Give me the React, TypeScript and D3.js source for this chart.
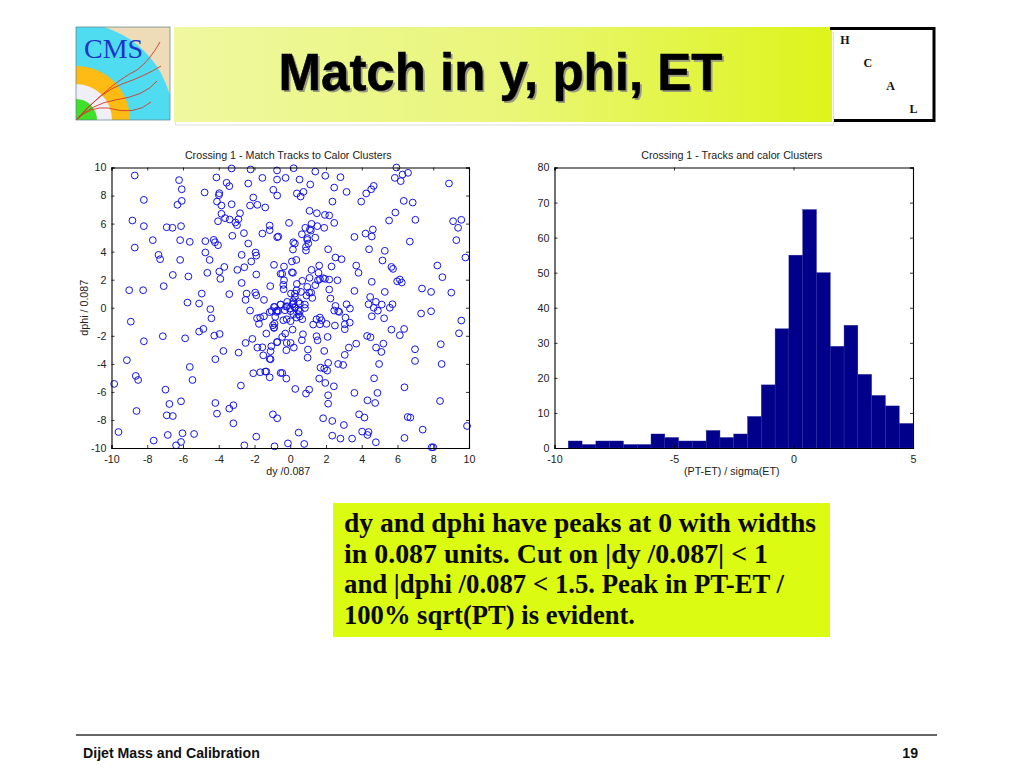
import { useEffect, useRef } from "react";
import * as d3 from "d3";

// dy, dphi
const scatterUpperLeft: [number, number][] = [
  [-8.7, 9.43], [-6.22, 9.1], [-6.07, 8.45], [-8.19, 7.69], [-6.07, 7.62], [-6.31, 7.34], [-4.79, 8.22], [-4.13, 9.29],
  [-3.56, 8.91], [-3.41, 8.67], [-3.97, 8.17], [-3.99, 8.03], [-4.1, 7.57], [-3.85, 7.29], [-3.28, 7.38], [-3.28, 9.93],
  [-2.22, 9.86], [-2.35, 8.86], [-1.56, 9.26], [-0.74, 9.79], [-0.74, 9.14], [-0.95, 8.41], [-0.73, 8.0], [-2.07, 7.86],
  [-2.25, 7.29], [-1.84, 7.34], [-1.4, 7.15], [-2.81, 6.74], [-3.85, 6.7], [-3.65, 6.39], [-3.39, 6.29], [-2.9, 6.31],
  [-3.07, 6.08], [-2.98, 5.89], [-4.04, 6.17], [-8.83, 6.22], [-8.19, 5.82], [-6.91, 5.74], [-6.59, 5.7], [-6.11, 5.82],
  [-1.15, 5.86], [-1.15, 5.53], [-1.56, 5.29], [-2.59, 5.32], [-0.73, 5.03], [-3.24, 5.13], [-7.69, 4.82], [-6.16, 4.82],
  [-5.62, 4.7], [-4.75, 4.75], [-4.28, 4.84], [-4.21, 4.67], [-4.04, 4.46], [-2.35, 4.58], [-8.7, 4.29], [-7.37, 3.77],
  [-7.28, 3.46], [-6.16, 3.41], [-4.75, 3.94], [-4.51, 3.41], [-2.72, 3.77], [-1.94, 3.94], [-1.9, 3.72], [-2.18, 3.3],
  [-0.91, 3.06], [-3.69, 2.91], [-2.57, 2.89], [-2.96, 2.7], [-3.97, 2.58], [-4.64, 2.49], [-6.57, 2.34], [-5.7, 2.23],
  [-1.9, 2.37], [-0.54, 2.42], [-3.91, 2.06], [-2.72, 1.77], [-7.08, 1.54], [-1.12, 1.54], [-9.01, 1.25], [-8.23, 1.25],
  [-4.95, 1.01], [-3.41, 0.97], [-2.44, 1.01], [-1.96, 1.08], [-1.9, 0.89], [-2.5, 0.56], [-1.47, 0.56], [-5.75, 0.37],
  [-5.1, 0.3], [-4.47, -0.1], [-2.25, -0.2], [-0.91, 0.06], [-1.15, -0.31], [-0.74, -0.2], [-0.54, 0.23],
];

const scatterLowerLeft: [number, number][] = [
  [-8.92, -0.99], [-7.13, -2.03], [-8.19, -2.39], [-5.88, -2.18], [-5.1, -1.7], [-4.86, -1.51], [-4.41, -0.75], [-4.25, -1.99],
  [-3.95, -1.87], [-3.74, -3.08], [-4.19, -3.67], [-2.89, -3.2], [-2.5, -2.51], [-2.12, -2.22], [-1.84, -2.84], [-1.56, -2.82],
  [-1.51, -3.39], [-1.1, -3.1], [-1.06, -2.75], [-0.74, -2.46], [-1.34, -1.84], [-1.15, -3.65], [-1.1, -3.67], [-1.86, -0.75],
  [-1.68, -0.7], [-1.47, -0.61], [-1.75, -1.15], [-0.97, -1.25], [-0.91, -1.44], [-0.84, -0.65], [-9.14, -3.74], [-5.62, -4.22],
  [-2.07, -4.67], [-1.68, -4.6], [-1.4, -4.55], [-1.34, -4.55], [-1.15, -4.96], [-0.54, -4.65], [-8.64, -4.86], [-8.51, -5.15],
  [-9.85, -5.43], [-5.47, -5.15], [-2.76, -5.55], [-6.98, -5.84], [-6.76, -6.86], [-6.11, -6.67], [-4.19, -6.79], [-3.18, -6.95],
  [-3.41, -7.19], [-8.6, -7.36], [-6.91, -7.67], [-6.57, -7.72], [-4.1, -7.55], [-0.97, -7.6], [-0.73, -7.88], [-3.18, -8.24],
  [-9.61, -8.86], [-6.03, -8.95], [-6.85, -9.07], [-5.38, -9.0], [-1.9, -9.19], [-7.64, -9.47], [-6.11, -9.57], [-6.39, -9.81],
  [-2.57, -9.81], [-0.88, -9.88],
];

const scatterUpperRight: [number, number][] = [
  [0.19, 9.95], [1.4, 9.71], [-0.26, 9.26], [0.52, 9.14], [1.12, 8.79], [1.96, 9.41], [2.81, 9.31], [0.37, 8.15],
  [0.74, 8.26], [0.58, 7.93], [2.46, 8.57], [3.15, 8.26], [2.36, 7.57], [4.67, 8.69], [4.53, 8.45], [4.25, 8.15],
  [3.97, 7.57], [5.94, 10.0], [5.85, 9.26], [6.28, 9.5], [6.59, 9.62], [6.18, 9.03], [8.88, 8.86], [6.35, 7.62],
  [6.85, 7.5], [1.08, 6.91], [1.49, 6.74], [1.94, 6.62], [2.18, 6.58], [2.46, 6.05], [1.19, 5.98], [-0.07, 6.05],
  [1.51, 5.82], [1.9, 5.7], [0.84, 5.7], [1.1, 5.6], [1.15, 5.5], [0.65, 5.24], [1.4, 5.0], [0.95, 4.96],
  [0.95, 4.84], [-0.67, 5.08], [0.17, 4.67], [0.26, 4.58], [1.01, 4.58], [0.88, 4.34], [0.15, 4.15], [0.88, 4.08],
  [2.12, 4.17], [2.53, 3.58], [2.87, 3.46], [3.69, 3.01], [3.82, 2.49], [2.31, 2.94], [1.62, 3.01], [1.19, 2.7],
  [1.58, 2.49], [0.09, 3.3], [0.34, 3.41], [-0.35, 2.94], [-0.45, 2.42], [0.09, 2.53], [0.15, 2.49], [-0.35, 1.96],
  [-0.39, 1.63], [-0.37, 1.32], [0.37, 1.7], [0.67, 1.92], [1.08, 2.13], [1.55, 1.96], [1.66, 2.04], [1.84, 2.11],
  [1.94, 2.06], [2.18, 2.01], [2.64, 1.96], [1.4, 1.61], [0.95, 1.49], [0.6, 1.13], [0.35, 1.25], [0.91, 0.87],
  [1.06, 1.08], [1.17, 1.08], [1.23, 0.7], [0.04, 1.01], [0.26, 1.01], [2.18, 1.3], [2.25, 0.66], [3.59, 1.2],
  [4.56, 1.85], [5.98, 1.89], [6.13, 2.01], [6.24, 1.8], [5.29, 1.13], [5.16, 3.37], [5.66, 2.91], [5.75, 2.77],
  [5.29, 4.06], [4.41, 4.17], [4.21, 5.29], [3.59, 5.05], [4.56, 5.08], [4.62, 5.58], [5.53, 6.22], [5.88, 6.79],
  [7.0, 6.27], [6.69, 4.72], [9.11, 6.17], [9.57, 6.27], [9.39, 5.7], [9.29, 4.82], [9.8, 3.58], [8.23, 3.01],
  [8.51, 2.18], [7.37, 1.37], [7.88, 1.13], [9.01, 1.08], [4.47, 0.77], [4.79, 0.42], [4.38, 0.25], [4.67, 0.0],
  [5.12, 0.23], [5.57, 0.0], [5.72, 0.25], [3.15, 0.25], [3.34, -0.06], [2.53, 0.13],
];

const scatterCentre: [number, number][] = [
  [-0.17, 0.42], [0.17, 0.47], [0.54, 0.3], [0.13, 0.23], [-0.54, 0.23], [0.82, 0.23], [-0.86, 0.06], [-0.24, 0.08],
  [-0.02, -0.06], [0.26, 0.0], [0.82, -0.02], [0.45, -0.18], [-0.67, -0.24], [0.02, -0.24], [0.54, -0.24], [0.26, 0.77],
  [0.45, 0.42], [0.17, 0.3], [-0.17, 0.11], [0.26, 0.06], [-1.04, -0.23], [-0.3, -0.18], [-0.76, -0.3], [0.17, -0.46],
  [0.45, -0.46], [0.35, -0.7], [0.54, -0.61], [0.67, -0.82], [0.02, -0.96], [-0.39, -0.89], [-0.2, -0.82], [-0.88, -1.13],
  [-0.91, -1.41], [0.13, -1.56], [-0.28, -1.84], [-0.45, -2.08], [-0.73, -2.44], [-0.2, -2.51], [0.02, -2.51], [0.2, -2.84],
  [-0.22, -3.03],
];

const scatterLowerRight: [number, number][] = [
  [2.46, -0.2], [2.68, -0.25], [2.74, -0.3], [4.9, -0.21], [7.32, -0.41], [7.88, -0.25], [4.56, -0.61], [5.25, -0.75],
  [9.57, -0.91], [9.44, -1.82], [5.66, -1.56], [6.37, -1.51], [6.13, -1.96], [4.3, -2.01], [4.49, -2.1], [8.42, -2.6],
  [5.21, -2.56], [4.8, -2.84], [5.1, -3.15], [3.69, -2.56], [3.28, -2.84], [3.05, -3.36], [6.98, -2.96], [6.98, -3.79],
  [8.47, -4.01], [4.97, -4.01], [2.68, -4.01], [2.96, -4.08], [2.12, -3.93], [1.69, -4.27], [1.9, -4.34], [2.07, -4.48],
  [1.9, -3.08], [0.99, -2.98], [0.97, -3.56], [2.09, -2.08], [1.47, -2.03], [1.53, -2.32], [0.65, -2.32], [0.71, -1.89],
  [1.28, -1.2], [1.47, -0.82], [1.66, -0.7], [1.75, -0.89], [1.66, -1.18], [2.03, -1.15], [2.5, -1.27], [3.09, -0.7],
  [3.33, -1.06], [3.05, -1.18], [3.05, -1.53], [-0.45, -4.65], [-0.22, -5.05], [1.62, -5.05], [1.96, -5.36], [2.44, -5.6],
  [0.28, -5.79], [0.88, -6.12], [1.06, -5.84], [2.12, -6.24], [2.12, -6.84], [3.59, -6.07], [4.69, -5.03], [4.88, -6.07],
  [4.32, -6.6], [4.75, -6.79], [6.39, -5.67], [8.38, -6.65], [3.85, -7.6], [4.15, -7.83], [1.84, -7.88], [2.35, -8.07],
  [3.0, -8.36], [6.57, -7.79], [6.72, -7.83], [9.89, -8.43], [7.41, -8.69], [4.02, -8.83], [4.38, -8.86], [4.32, -9.07],
  [0.47, -8.9], [2.35, -9.12], [2.81, -9.33], [3.46, -9.33], [6.39, -9.28], [4.79, -9.59], [-0.13, -9.67], [0.78, -9.71],
  [7.91, -9.95], [8.0, -9.95],
];

const scatterPoints = [...scatterUpperLeft, ...scatterLowerLeft, ...scatterUpperRight, ...scatterCentre, ...scatterLowerRight];

// counts per bin, 26 equal bins from -10 to 5
const histCounts = [0, 2, 1, 2, 2, 1, 1, 4, 3, 2, 2, 5, 3, 4, 9, 18, 34, 55, 68, 50, 29, 35, 21, 15, 12, 7];

const scatterTicks = [-10, -8, -6, -4, -2, 0, 2, 4, 6, 8, 10];
const histXTicks = [-10, -5, 0, 5];
const histYTicks = [0, 10, 20, 30, 40, 50, 60, 70, 80];

const noteLines = [
  "dy and dphi have peaks at 0 with widths",
  "in 0.087 units. Cut on |dy /0.087| < 1",
  "and |dphi /0.087 < 1.5. Peak in PT-ET /",
  "100% sqrt(PT) is evident.",
];
const noteWidths = [472, 424, 440, 291];
const hcalLetters = ["H", "C", "A", "L"];

const plotTop = 167.5;
const plotBottom = 448;
const FONT = "'Liberation Sans', Arial, sans-serif";
const AXIS_FONT_SIZE = 10.7;

function drawFrame(
  root: d3.Selection<SVGGElement, unknown, null, undefined>,
  x: d3.ScaleLinear<number, number>,
  y: d3.ScaleLinear<number, number>,
  xTicks: number[],
  yTicks: number[],
  title: string,
  xLabel: string,
  yLabel?: string
) {
  const [x0, x1] = x.range();
  const g = root.append("g");
  const fmt = (d: d3.NumberValue) => String(d);

  const bottom = g.append("g").attr("transform", `translate(0,${plotBottom})`)
    .call(d3.axisBottom(x).tickValues(xTicks).tickSize(-3).tickPadding(7).tickFormat(fmt));
  const top = g.append("g").attr("transform", `translate(0,${plotTop})`)
    .call(d3.axisTop(x).tickValues(xTicks).tickSize(-3).tickFormat(() => ""));
  const left = g.append("g").attr("transform", `translate(${x0},0)`)
    .call(d3.axisLeft(y).tickValues(yTicks).tickSize(-3).tickPadding(5).tickFormat(fmt));
  const right = g.append("g").attr("transform", `translate(${x1},0)`)
    .call(d3.axisRight(y).tickValues(yTicks).tickSize(-3).tickFormat(() => ""));

  [bottom, top, left, right].forEach((a) => {
    a.selectAll("path").attr("stroke", "#000").attr("stroke-width", 1.1);
    a.selectAll("line").attr("stroke", "#000").attr("stroke-width", 0.8);
    a.selectAll("text").attr("font-family", FONT).attr("font-size", AXIS_FONT_SIZE).attr("fill", "#222");
  });

  // Titles sit slightly left of the plot centre in the original
  const labelX = (x0 + x1) / 2 - 2;
  g.append("text")
    .attr("x", labelX).attr("y", 159)
    .attr("text-anchor", "middle").attr("font-family", FONT).attr("font-size", AXIS_FONT_SIZE).attr("fill", "#222")
    .text(title);
  g.append("text")
    .attr("x", labelX).attr("y", 475)
    .attr("text-anchor", "middle").attr("font-family", FONT).attr("font-size", AXIS_FONT_SIZE).attr("fill", "#222")
    .text(xLabel);
  if (yLabel) {
    g.append("text")
      .attr("transform", `translate(${x0 - 24},${(plotTop + plotBottom) / 2}) rotate(-90)`)
      .attr("text-anchor", "middle").attr("font-family", FONT).attr("font-size", AXIS_FONT_SIZE).attr("fill", "#222")
      .text(yLabel);
  }
}

export default function App() {
  const chartRef = useRef<SVGGElement>(null);

  useEffect(() => {
    if (!chartRef.current) return;
    const root = d3.select(chartRef.current);
    root.selectAll("*").remove();

    // Scatter
    const sx = d3.scaleLinear().domain([-10, 10]).range([111.5, 469]);
    const sy = d3.scaleLinear().domain([-10, 10]).range([plotBottom, plotTop]);

    root.append("g")
      .selectAll("circle")
      .data(scatterPoints)
      .join("circle")
      .attr("cx", (d) => sx(d[0]))
      .attr("cy", (d) => sy(d[1]))
      .attr("r", 3.4)
      .attr("fill", "none")
      .attr("stroke", "#1414e6")
      .attr("stroke-width", 1);

    drawFrame(root, sx, sy, scatterTicks, scatterTicks, "Crossing 1 - Match Tracks to Calor Clusters", "dy /0.087", "dphi / 0.087");

    // Histogram
    const hx = d3.scaleLinear().domain([-10, 5]).range([554.5, 913]);
    const hy = d3.scaleLinear().domain([0, 80]).range([plotBottom, plotTop]);
    const binWidth = 15 / histCounts.length;

    root.append("g")
      .selectAll("rect")
      .data(histCounts)
      .join("rect")
      .attr("x", (_, i) => hx(-10 + i * binWidth))
      .attr("y", (d) => hy(d))
      .attr("width", hx(binWidth) - hx(0))
      .attr("height", (d) => hy(0) - hy(d))
      .attr("fill", "#00008a")
      .attr("stroke", "#2a2aa0")
      .attr("stroke-width", 0.4);

    drawFrame(root, hx, hy, histXTicks, histYTicks, "Crossing 1 - Tracks and calor Clusters", "(PT-ET) / sigma(ET)");
  }, []);

  return (
    <svg
      width={1024}
      height={768}
      viewBox="0 0 1024 768"
      style={{ position: "absolute", left: 0, top: 0, background: "#fff" }}
    >
      <defs>
        <linearGradient id="band" x1="0" x2="1" y1="0" y2="0">
          <stop offset="0" stopColor="#eff89f" />
          <stop offset="0.5" stopColor="#e9f67a" />
          <stop offset="1" stopColor="#def41a" />
        </linearGradient>
        <clipPath id="logoClip">
          <rect x={76} y={27} width={94} height={93} />
        </clipPath>
      </defs>

      {/* CMS logo */}
      <g clipPath="url(#logoClip)">
        <rect x={76} y={27} width={94} height={93} fill="#eedcb9" />
        <circle cx={76} cy={120} r={97} fill="#4fdcf0" />
        <circle cx={76} cy={120} r={54} fill="#fdbb14" />
        <circle cx={76} cy={120} r={36} fill="#f0eef6" />
        <circle cx={76} cy={120} r={21} fill="#3fe02a" />
        <g fill="none" stroke="#d8352a" strokeWidth={0.9}>
          <path d="M76 120 Q112 82 137 70 Q150 60 160 42" />
          <path d="M76 120 Q100 92 122 84 Q145 76 161 66" />
          <path d="M76 120 Q92 104 115 100 Q145 96 157 81" />
          <path d="M76 120 Q90 106 108 108 Q135 116 151 102" />
        </g>
      </g>
      <rect x={76} y={27} width={94} height={93} fill="none" stroke="#5b7f86" strokeWidth={0.7} />
      <text x={84} y={58} fontFamily="'Liberation Serif', serif" fontSize={28} fill="#1c35c8">CMS</text>

      {/* Title band */}
      <rect x={175.5} y={33} width={658} height={92} fill="#fff" stroke="#dcdcdc" strokeWidth={1} />
      <rect x={174} y={27} width={658} height={95} fill="url(#band)" />
      <g fontFamily={FONT} fontWeight="bold" fontSize={51} textAnchor="middle">
        <text x={502.5} y={92} fill="#9a9a80">Match in y, phi, ET</text>
        <text x={500.5} y={90} fill="#000" stroke="#000" strokeWidth={0.5}>Match in y, phi, ET</text>
      </g>

      {/* HCAL box */}
      <path d="M830 28.5 H934 V120.5 H834" fill="none" stroke="#000" strokeWidth={3} />
      <g fontFamily="'Liberation Serif', serif" fontWeight="bold" fontSize={12} fill="#111" textAnchor="middle">
        {hcalLetters.map((letter, i) => (
          <text key={letter} x={845 + i * 22.8} y={44 + i * 23}>{letter}</text>
        ))}
      </g>

      {/* Charts */}
      <g ref={chartRef} />

      {/* Note */}
      <rect x={333} y={503} width={497} height={134} fill="#dcfb12" />
      <g fontFamily="'Liberation Serif', serif" fontWeight="bold" fontSize={27.5} fill="#0a0a00">
        {noteLines.map((line, i) => (
          <text key={line} x={344} y={532 + i * 30.7} textLength={noteWidths[i]} lengthAdjust="spacingAndGlyphs">{line}</text>
        ))}
      </g>

      {/* Footer */}
      <line x1={76} x2={937} y1={735} y2={735} stroke="#333" strokeWidth={1.5} />
      <g fontFamily={FONT} fontWeight="bold" fontSize={14.15} fill="#111">
        <text x={83} y={758}>Dijet Mass and Calibration</text>
        <text x={918} y={758} textAnchor="end">19</text>
      </g>
    </svg>
  );
}
